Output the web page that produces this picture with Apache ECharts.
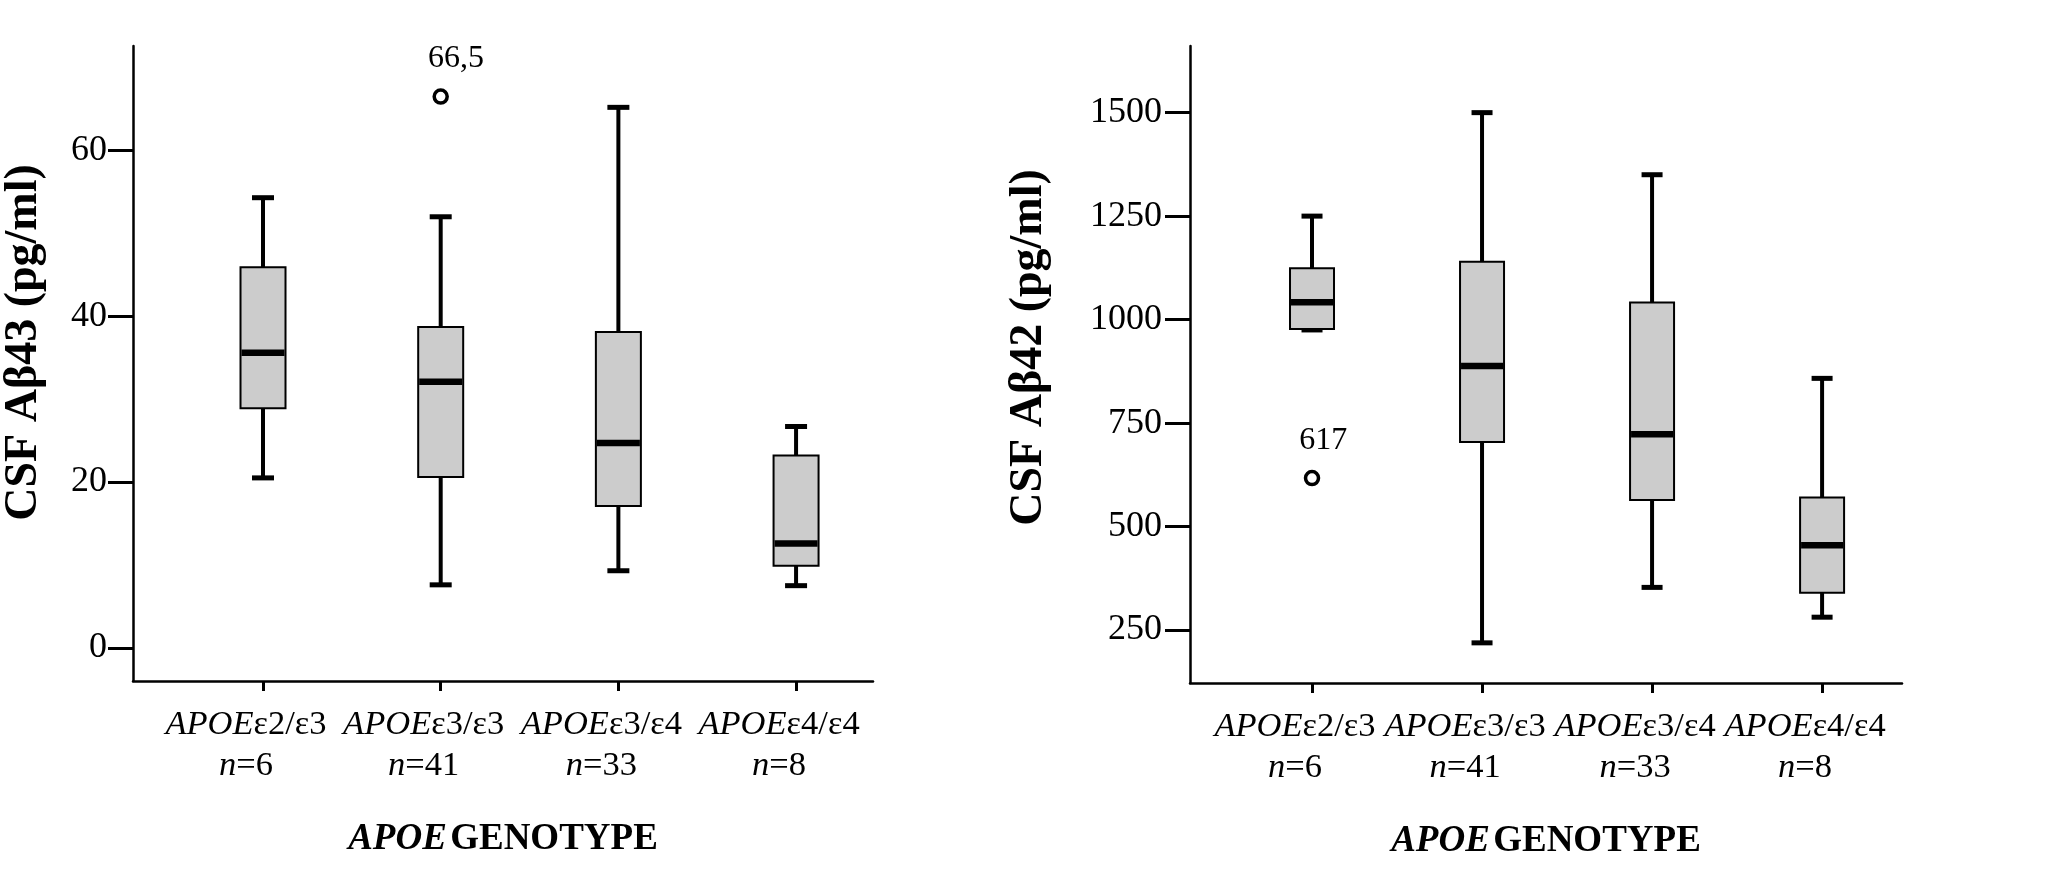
<!DOCTYPE html>
<html lang="en" style="height: 100%">
<head>
  <meta charset="utf-8">
</head>
<body style="height: 100%; margin: 0; background: #fff">
  <div id="container" style="height: 100%"></div>

  <script type="text/javascript" src="https://cdn.jsdelivr.net/npm/echarts@6/dist/echarts.min.js"></script>

  <script type="text/javascript">
    // categories (x axis)
    var genotypes = ['ε2/ε3', 'ε3/ε3', 'ε3/ε4', 'ε4/ε4'];
    var nCounts = [6, 41, 33, 8];

    // box stats per genotype: [min, Q1, median, Q3, max]
    var abeta43 = [
      [20.5, 28.9, 35.6, 45.9, 54.3],
      [7.6, 20.6, 32.1, 38.7, 52.0],
      [9.3, 17.1, 24.7, 38.1, 65.2],
      [7.5, 9.9, 12.6, 23.2, 26.7]
    ];
    var abeta42 = [
      [975, 977, 1042, 1124, 1250],
      [219, 704, 888, 1140, 1500],
      [353, 564, 723, 1041, 1350],
      [281, 340, 455, 570, 858]
    ];

    // outliers: [category index, value]
    var outliers43 = [[1, 66.5]];
    var outliers42 = [[0, 617]];

    // y tick labels
    var yTicks43 = [0, 20, 40, 60];
    var yTicks42 = [250, 500, 750, 1000, 1250, 1500];
    var xTicks = [0, 1, 2, 3];

    var FONT = '"Liberation Serif", "Times New Roman", serif';

    var dom = document.getElementById('container');
    var myChart = echarts.init(dom, null, { renderer: 'canvas' });

    function boxRenderer(halfW, capHalf) {
      return function (params, api) {
        var x = api.value(0);
        var pMin = api.coord([x, api.value(1)]);
        var pQ1 = api.coord([x, api.value(2)]);
        var pMed = api.coord([x, api.value(3)]);
        var pQ3 = api.coord([x, api.value(4)]);
        var pMax = api.coord([x, api.value(5)]);
        var cx = pMin[0];
        var whisker = { stroke: '#000', lineWidth: 4 };
        var cap = { stroke: '#000', lineWidth: 5 };
        return {
          type: 'group',
          children: [
            { type: 'line', shape: { x1: cx, y1: pQ3[1], x2: cx, y2: pMax[1] }, style: whisker },
            { type: 'line', shape: { x1: cx, y1: pMin[1], x2: cx, y2: pQ1[1] }, style: whisker },
            { type: 'line', shape: { x1: cx - capHalf, y1: pMax[1], x2: cx + capHalf, y2: pMax[1] }, style: cap },
            { type: 'line', shape: { x1: cx - capHalf, y1: pMin[1], x2: cx + capHalf, y2: pMin[1] }, style: cap },
            {
              type: 'rect',
              shape: { x: cx - halfW, y: pQ3[1], width: halfW * 2, height: pQ1[1] - pQ3[1] },
              style: { fill: '#cccccc', stroke: '#000', lineWidth: 2 }
            },
            {
              type: 'line',
              shape: { x1: cx - halfW + 1, y1: pMed[1], x2: cx + halfW - 1, y2: pMed[1] },
              style: { stroke: '#000', lineWidth: 6.5 }
            }
          ]
        };
      };
    }

    function toRows(stats) {
      return stats.map(function (s, i) { return [i].concat(s); });
    }

    function xAxisFor(gridIndex, min, max) {
      return {
        type: 'value',
        gridIndex: gridIndex,
        min: min,
        max: max,
        name: '{a|APOE} {b|GENOTYPE}',
        nameLocation: 'middle',
        nameGap: 140,
        nameMoveOverlap: false,
        nameTextStyle: {
          rich: {
            a: { fontFamily: FONT, fontSize: 37, fontWeight: 'bold', fontStyle: 'italic', color: '#000' },
            b: { fontFamily: FONT, fontSize: 37, fontWeight: 'bold', color: '#000' }
          }
        },
        splitLine: { show: false },
        axisLine: { show: true, onZero: false, lineStyle: { color: '#000', width: 2.5 } },
        axisTick: { show: true, customValues: xTicks, length: 10, lineStyle: { color: '#000', width: 3 } },
        axisLabel: {
          customValues: xTicks,
          margin: 23,
          padding: [0, 34, 0, 0],
          formatter: function (v) {
            var i = Math.round(v);
            return '{it|APOE}{rm|' + genotypes[i] + '}\n{it|n}{rm|=' + nCounts[i] + '}';
          },
          rich: {
            it: { fontFamily: FONT, fontSize: 34.5, fontStyle: 'italic', color: '#000', lineHeight: 41 },
            rm: { fontFamily: FONT, fontSize: 34.5, color: '#000', lineHeight: 41 }
          }
        }
      };
    }

    function yAxisFor(gridIndex, min, max, ticks, name, gap, lift, margin) {
      return {
        type: 'value',
        gridIndex: gridIndex,
        min: min,
        max: max,
        name: name,
        nameLocation: 'middle',
        nameGap: gap,
        nameRotate: 90,
        nameMoveOverlap: false,
        nameTextStyle: {
          fontFamily: FONT, fontSize: 46, fontWeight: 'bold', color: '#000',
          padding: [0, 0, 0, lift]
        },
        splitLine: { show: false },
        axisLine: { show: true, onZero: false, lineStyle: { color: '#000', width: 2.5 } },
        axisTick: { show: true, customValues: ticks, length: 25, lineStyle: { color: '#000', width: 3 } },
        axisLabel: {
          customValues: ticks,
          margin: margin,
          fontFamily: FONT,
          fontSize: 36,
          color: '#000',
          formatter: function (v) { return String(v); }
        }
      };
    }

    function outlierSeries(axisIndex, points) {
      return {
        type: 'scatter',
        xAxisIndex: axisIndex,
        yAxisIndex: axisIndex,
        data: points,
        symbol: 'circle',
        symbolSize: 13,
        z: 5,
        itemStyle: { color: '#fff', borderColor: '#000', borderWidth: 3.5, opacity: 1 },
        label: {
          show: true,
          position: [-4.5, -29.5],
          align: 'left',
          verticalAlign: 'middle',
          fontFamily: FONT,
          fontSize: 32,
          color: '#000',
          formatter: function (p) { return String(p.value[1]).replace('.', ','); }
        }
      };
    }

    var option = {
      animation: false,
      backgroundColor: '#fff',
      grid: [
        { left: 133, top: 46, width: 740, height: 635, outerBoundsMode: 'none' },
        { left: 1190, top: 46, width: 712, height: 637, outerBoundsMode: 'none' }
      ],
      xAxis: [
        xAxisFor(0, -0.7317, 3.433),
        xAxisFor(1, -0.7176, 3.47)
      ],
      yAxis: [
        yAxisFor(0, -4, 72.6, yTicks43, 'CSF Aβ43 (pg/ml)', 86, 42, 26),
        yAxisFor(1, 122, 1661, yTicks42, 'CSF Aβ42 (pg/ml)', 138, 34, 28)
      ],
      series: [
        {
          type: 'custom',
          xAxisIndex: 0,
          yAxisIndex: 0,
          data: toRows(abeta43),
          encode: { x: 0, y: [1, 2, 3, 4, 5] },
          renderItem: boxRenderer(22.5, 11)
        },
        {
          type: 'custom',
          xAxisIndex: 1,
          yAxisIndex: 1,
          data: toRows(abeta42),
          encode: { x: 0, y: [1, 2, 3, 4, 5] },
          renderItem: boxRenderer(22, 10.5)
        },
        outlierSeries(0, outliers43),
        outlierSeries(1, outliers42)
      ]
    };

    myChart.setOption(option);
    window.addEventListener('resize', myChart.resize);
  </script>
</body>
</html>
